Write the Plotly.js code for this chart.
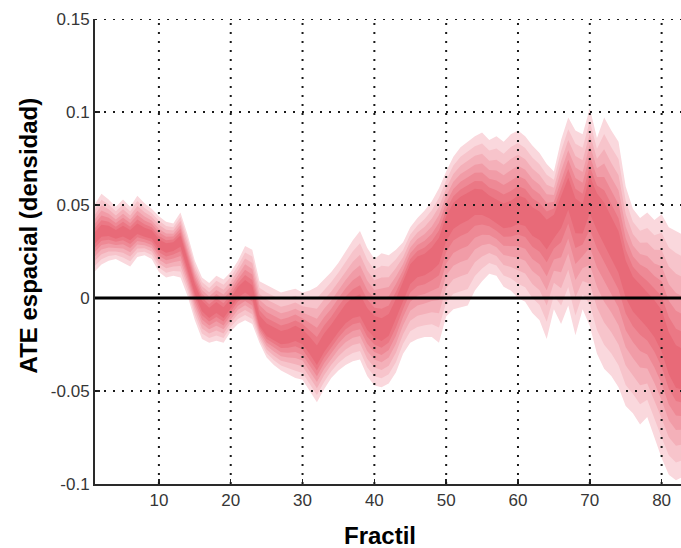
<!DOCTYPE html>
<html>
<head>
<meta charset="utf-8">
<script src="https://cdn.plot.ly/plotly-3.0.1.min.js"></script>
<style>
  html, body { margin: 0; padding: 0; background: #ffffff; }
  #chart { width: 681px; height: 548px; }
</style>
</head>
<body>
<div id="chart"></div>
<script>
// Fractiles on the horizontal axis
const fractil = [
   1,  2,  3,  4,  5,  6,  7,  8,  9, 10, 11, 12, 13, 14, 15, 16, 17, 18, 19, 20,
  21, 22, 23, 24, 25, 26, 27, 28, 29, 30, 31, 32, 33, 34, 35, 36, 37, 38, 39, 40,
  41, 42, 43, 44, 45, 46, 47, 48, 49, 50, 51, 52, 53, 54, 55, 56, 57, 58, 59, 60,
  61, 62, 63, 64, 65, 66, 67, 68, 69, 70, 71, 72, 73, 74, 75, 76, 77, 78, 79, 80,
  81, 82, 83
];

// Central estimate of the spatial ATE (densidad)
const ateCentral = [
  0.032, 0.036, 0.036, 0.034, 0.036, 0.034, 0.037, 0.035, 0.034, 0.029,
  0.027, 0.028, 0.031, 0.018, 0.005, -0.004, -0.008, -0.005, -0.008, -0.003,
  0.003, 0.006, 0.003, -0.013, -0.018, -0.020, -0.022, -0.021, -0.019, -0.021,
  -0.026, -0.032, -0.025, -0.020, -0.014, -0.009, -0.006, -0.005, -0.012, -0.016,
  -0.018, -0.015, -0.006, 0.004, 0.014, 0.018, 0.019, 0.022, 0.027, 0.039,
  0.046, 0.049, 0.051, 0.053, 0.052, 0.049, 0.046, 0.044, 0.045, 0.048,
  0.047, 0.042, 0.040, 0.036, 0.040, 0.048, 0.058, 0.046, 0.043, 0.058,
  0.050, 0.042, 0.034, 0.026, 0.012, 0.004, 0.000, -0.006, -0.010, -0.017,
  -0.030, -0.038, -0.040
];

// Upper bound of the widest band
const ateUpper = [
  0.050, 0.056, 0.053, 0.049, 0.053, 0.049, 0.055, 0.051, 0.048, 0.044,
  0.041, 0.040, 0.046, 0.034, 0.020, 0.011, 0.008, 0.012, 0.010, 0.014,
  0.020, 0.028, 0.026, 0.009, 0.007, 0.005, 0.003, 0.004, 0.005, 0.003,
  0.004, 0.006, 0.010, 0.014, 0.019, 0.025, 0.031, 0.036, 0.027, 0.021,
  0.024, 0.023, 0.026, 0.030, 0.038, 0.043, 0.047, 0.052, 0.059, 0.068,
  0.076, 0.081, 0.084, 0.087, 0.089, 0.085, 0.087, 0.084, 0.088, 0.090,
  0.087, 0.082, 0.078, 0.072, 0.068, 0.085, 0.097, 0.090, 0.088, 0.102,
  0.086, 0.097, 0.090, 0.084, 0.060, 0.048, 0.043, 0.046, 0.042, 0.045,
  0.038, 0.036, 0.034
];

// Lower bound of the widest band
const ateLower = [
  0.014, 0.018, 0.020, 0.021, 0.019, 0.017, 0.022, 0.023, 0.021, 0.014,
  0.011, 0.012, 0.011, 0.001, -0.012, -0.022, -0.024, -0.023, -0.024, -0.018,
  -0.014, -0.012, -0.014, -0.024, -0.032, -0.036, -0.039, -0.041, -0.043, -0.044,
  -0.050, -0.056, -0.049, -0.043, -0.039, -0.036, -0.034, -0.033, -0.042, -0.047,
  -0.048, -0.046, -0.040, -0.030, -0.024, -0.022, -0.021, -0.021, -0.024, -0.010,
  -0.006, -0.005, -0.004, 0.004, 0.009, 0.013, 0.012, 0.006, 0.004, 0.000,
  -0.002, -0.008, -0.012, -0.022, -0.006, -0.014, -0.004, -0.020, -0.006, -0.015,
  -0.030, -0.038, -0.042, -0.048, -0.058, -0.062, -0.068, -0.064, -0.075, -0.086,
  -0.095, -0.098, -0.096
];

// Axis ticks
const xTickVals = [10, 20, 30, 40, 50, 60, 70, 80];
const xTickText = ['10', '20', '30', '40', '50', '60', '70', '80'];
const yTickVals = [-0.1, -0.05, 0, 0.05, 0.1, 0.15];
const yTickText = ['-0.1', '-0.05', '0', '0.05', '0.1', '0.15'];

// Fan shading: share of the full spread covered by each band, light to dark
const fanShares = [1.00, 0.84, 0.69, 0.55, 0.42, 0.29, 0.17];
const fanColors = ['#fad8dd', '#f7c4cb', '#f4b0b9', '#f19ca7', '#ee8995', '#eb7885', '#e86a78'];

const traces = fanShares.map((share, k) => {
  const up = ateCentral.map((c, i) => c + share * (ateUpper[i] - c));
  const lo = ateCentral.map((c, i) => c - share * (c - ateLower[i]));
  return {
    type: 'scatter',
    mode: 'lines',
    x: fractil.concat(fractil.slice().reverse()),
    y: up.concat(lo.slice().reverse()),
    fill: 'toself',
    fillcolor: fanColors[k],
    line: { width: 0, color: fanColors[k] },
    hoverinfo: 'skip',
    showlegend: false
  };
});

// Dotted grid and the zero reference line drawn on top of the fan
const dotted = { color: '#1a1a1a', width: 2, dash: '2px,7px' };
const shapes = [];
xTickVals.forEach(v => shapes.push({
  type: 'line', layer: 'above', xref: 'x', yref: 'paper',
  x0: v, x1: v, y0: 0, y1: 1, line: dotted
}));
yTickVals.filter(v => v !== 0 && v !== -0.1).forEach(v => shapes.push({
  type: 'line', layer: 'above', xref: 'paper', yref: 'y',
  x0: 0, x1: 1, y0: v, y1: v, line: dotted
}));
shapes.push({
  type: 'line', layer: 'above', xref: 'paper', yref: 'y',
  x0: 0, x1: 1, y0: 0, y1: 0, line: { color: '#000000', width: 3 }
});

const tickFont = { family: 'Liberation Sans, Arial, sans-serif', size: 17, color: '#363636' };
const titleFont = { family: 'Liberation Sans, Arial, sans-serif', size: 24, color: '#000000', weight: 'bold' };

const layout = {
  width: 681,
  height: 548,
  margin: { l: 95, r: 0, t: 19, b: 64, pad: 0 },
  paper_bgcolor: '#ffffff',
  plot_bgcolor: '#ffffff',
  showlegend: false,
  hovermode: false,
  xaxis: {
    range: [1.1, 82.7],
    tickmode: 'array',
    tickvals: xTickVals,
    ticktext: xTickText,
    ticks: 'inside',
    ticklen: 5,
    tickwidth: 1.5,
    tickcolor: '#222222',
    showgrid: false,
    zeroline: false,
    showline: true,
    linecolor: '#2a2a2a',
    linewidth: 2,
    tickfont: tickFont,
    layer: 'above traces'
  },
  yaxis: {
    range: [-0.1, 0.15],
    tickmode: 'array',
    tickvals: yTickVals,
    ticktext: yTickText,
    ticks: 'inside',
    ticklen: 5,
    tickwidth: 1.5,
    tickcolor: '#222222',
    showgrid: false,
    zeroline: false,
    showline: true,
    linecolor: '#2a2a2a',
    linewidth: 2,
    tickfont: tickFont,
    layer: 'above traces'
  },
  shapes: shapes,
  annotations: [
    {
      text: 'ATE espacial (densidad)',
      xref: 'paper', yref: 'paper',
      x: -0.114, y: 0.535,
      xanchor: 'center', yanchor: 'middle',
      textangle: -90,
      showarrow: false,
      font: titleFont
    },
    {
      text: 'Fractil',
      xref: 'paper', yref: 'paper',
      x: 0.487, y: -0.11,
      xanchor: 'center', yanchor: 'middle',
      showarrow: false,
      font: titleFont
    }
  ]
};

Plotly.newPlot('chart', traces, layout, { staticPlot: true, displayModeBar: false });
</script>
</body>
</html>
